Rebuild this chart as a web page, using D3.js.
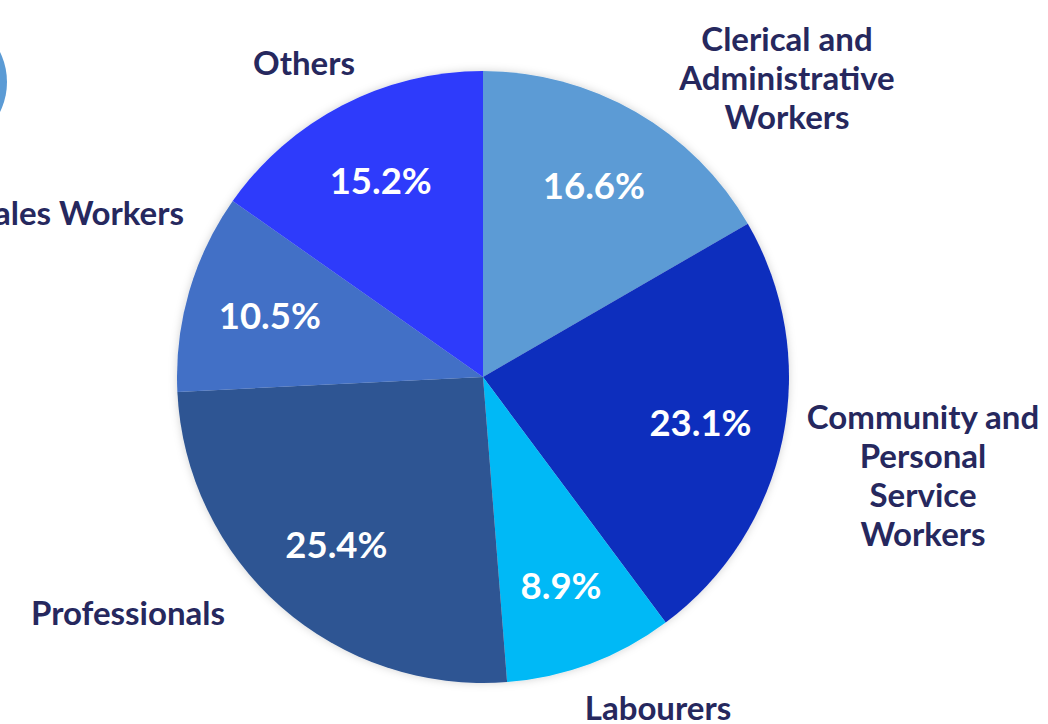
<!DOCTYPE html>
<html>
<head>
<meta charset="utf-8">
<script src="https://cdn.jsdelivr.net/npm/d3@7"></script>
<style>
  html, body { margin: 0; padding: 0; background: #ffffff; }
  svg { display: block; }
  text { font-family: Lato, "Open Sans", sans-serif; font-weight: 700; }
</style>
</head>
<body>
<svg id="chart" width="1048" height="724"></svg>
<script>
// ---- data ----
const categories = ["Clerical and Administrative Workers", "Community and Personal Service Workers", "Labourers", "Professionals", "Sales Workers", "Others"];
const values = [16.6, 23.1, 8.9, 25.4, 10.5, 15.2];
const valueLabels = ["16.6%", "23.1%", "8.9%", "25.4%", "10.5%", "15.2%"];
const labelLines = [
  ["Clerical and", "Administrative", "Workers"],
  ["Community and", "Personal", "Service", "Workers"],
  ["Labourers"],
  ["Professionals"],
  ["Sales Workers"],
  ["Others"]
];

// ---- styling / layout ----
const colors = ["#5B9BD5", "#112DBD", "#00B9F6", "#2E5593", "#4270C6", "#2D3BFB"];
const labelLayout = [
  { x: 787, y: 38, anchor: "middle" },
  { x: 923, y: 416, anchor: "middle" },
  { x: 658, y: 707, anchor: "middle" },
  { x: 128, y: 612, anchor: "middle" },
  { x: 184, y: 212, anchor: "end" },
  { x: 304, y: 62, anchor: "middle" }
];
const cx = 483, cy = 377, R = 306;

const svg = d3.select("#chart");

// decorative circle top-left
svg.append("circle").attr("cx", -61).attr("cy", 82).attr("r", 68).attr("fill", "#5B9BD5");

const defs = svg.append("defs");
const f = defs.append("filter").attr("id", "shadow").attr("x", "-10%").attr("y", "-10%").attr("width", "120%").attr("height", "120%");
f.append("feDropShadow").attr("dx", 0).attr("dy", 0).attr("stdDeviation", 4).attr("flood-color", "#000").attr("flood-opacity", 0.18);

const data = categories.map((c, i) => ({ cat: c, value: values[i], label: valueLabels[i], lines: labelLines[i], color: colors[i], layout: labelLayout[i] }));

const pie = d3.pie().value(d => d.value).sort(null);
const arcs = pie(data);
const arc = d3.arc().innerRadius(0).outerRadius(R);

const g = svg.append("g").attr("transform", `translate(${cx},${cy})`);
const pieG = g.append("g").attr("filter", "url(#shadow)");
pieG.selectAll("path").data(arcs).join("path")
  .attr("d", arc)
  .attr("fill", d => d.data.color);

// percentage labels at centroid radius ~222
const pctArc = d3.arc().innerRadius(222).outerRadius(222);
g.selectAll("text.pct").data(arcs).join("text")
  .attr("class", "pct")
  .attr("x", d => pctArc.centroid(d)[0])
  .attr("y", d => pctArc.centroid(d)[1])
  .attr("text-anchor", "middle")
  .attr("dominant-baseline", "central")
  .attr("fill", "#ffffff")
  .attr("font-size", 36.5)
  .text(d => d.data.label);

// category labels
const lineH = 39;
data.forEach(d => {
  const t = svg.append("text")
    .attr("text-anchor", d.layout.anchor)
    .attr("fill", "#26285E")
    .attr("font-size", 33);
  d.lines.forEach((ln, j) => {
    t.append("tspan")
      .attr("x", d.layout.x)
      .attr("y", d.layout.y + j * lineH)
      .attr("dominant-baseline", "central")
      .text(ln);
  });
});
</script>
</body>
</html>
